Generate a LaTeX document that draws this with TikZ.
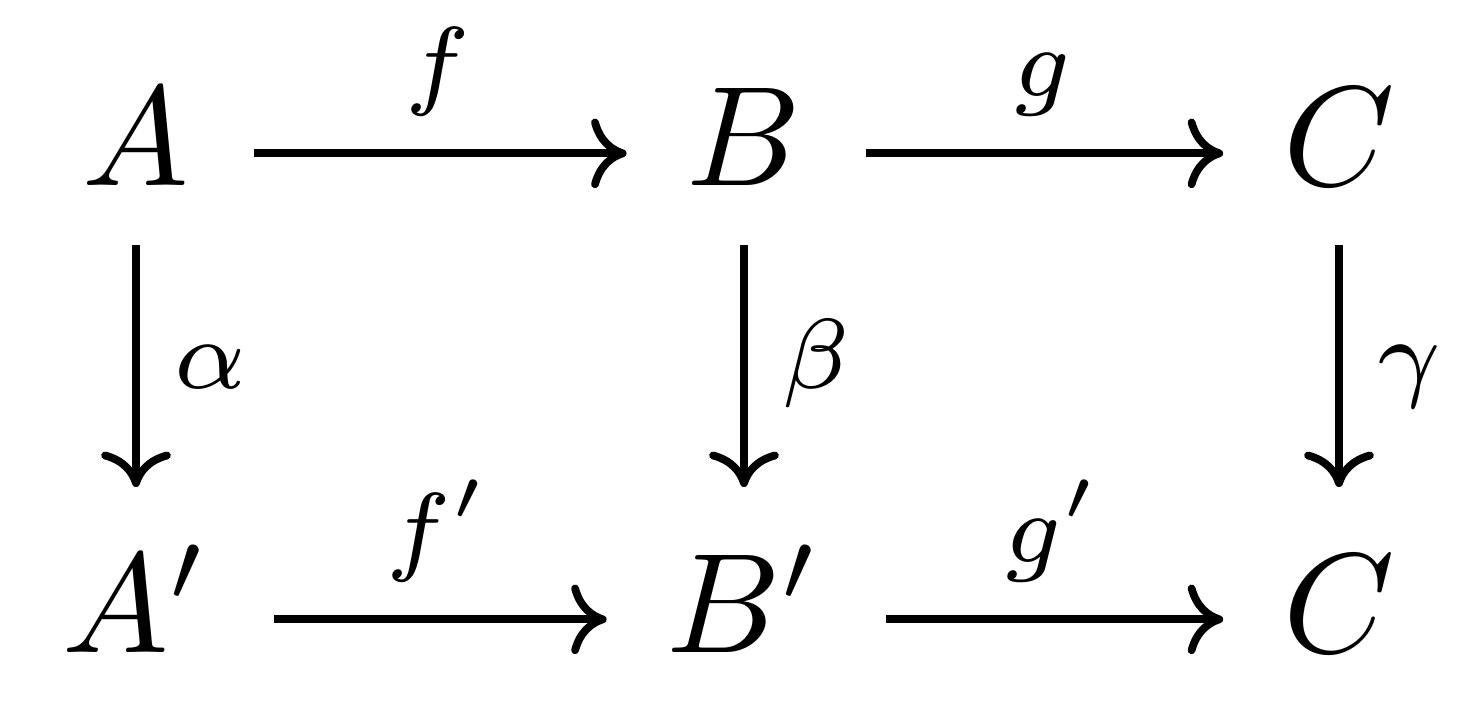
\documentclass[tikz,border=0pt]{standalone}
\usepackage{amsmath}
\usepackage{tikz}
\usetikzlibrary{arrows.meta, positioning}

\begin{document}
\begin{tikzpicture}[x=0.07042pt, y=-0.07042pt,
 >={Computer Modern Rightarrow[width=4.9pt,length=2.5pt]}, line width=0.55pt,
 main node/.style={anchor=base, inner xsep=4.3pt, inner ysep=1.87pt,
  text height=6.6pt, text depth=2pt},
 map label/.style={font=\scriptsize, inner sep=0pt, text height=4.9pt, text depth=1.36pt},
 down map/.style={shorten >=2.87pt}]

  \useasboundingbox (0,0) rectangle (1471,705);

  \node[main node] (A) at (136,186) {$A$};
  \node[main node] (B) at (744,186) {$B$};
  \node[main node] (C) at (1339,186) {$C$};
  \node[main node] (A prime) at (136,652) {$A'$};
  \node[main node] (B prime) at (744,652) {$B'$};
  \node[main node] (C low) at (1339,652) {$C$};

  \path[->, shorten >=-0.35pt]
	(A) edge node[map label, above=2.4pt] {$f$} (B)
	(B) edge node[map label, above=2.4pt] {$g$} (C)
	(A prime) edge node[map label, above=2.4pt] {$f'$} (B prime)
	(B prime) edge node[map label, above=2.4pt] {$g'$} (C low);

  \path[->]
	(A) edge[down map] node[map label, right=2.4pt, pos=.42] {$\alpha$} (A prime)
	(B) edge[down map] node[map label, right=2.4pt, pos=.42] {$\beta$} (B prime)
	(C) edge[down map] node[map label, right=2.4pt, pos=.42] {$\gamma$} (C low);
\end{tikzpicture}
\end{document}
